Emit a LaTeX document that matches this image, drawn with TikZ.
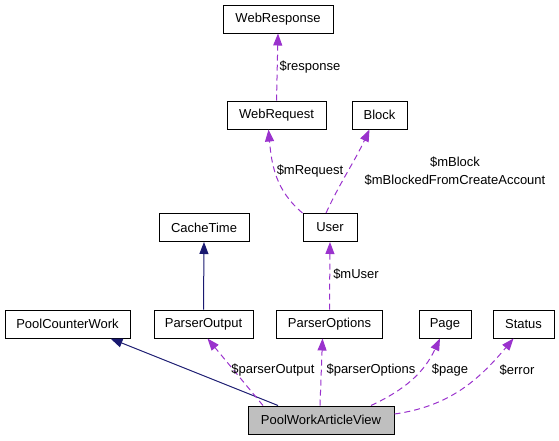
\documentclass[tikz,border=0pt]{standalone}
\usepackage{fontspec}
\setmainfont{Liberation Sans}
\usetikzlibrary{
	arrows.meta,
	positioning
}
\definecolor{usecol}{HTML}{9A32CD}
\definecolor{inhcol}{HTML}{191970}
\definecolor{mainfill}{HTML}{BFBFBF}

\begin{document}
\begin{tikzpicture}[
		x=1pt, y=1pt,
		font=\fontsize{13}{15}\selectfont,
		cls/.style={draw, rectangle, line width=1pt, inner xsep=2pt, minimum height=28pt, align=center},
		focus/.style={cls, fill=mainfill},
		use/.style={-{Triangle[length=12pt,width=9pt]}, dashed, dash pattern=on 6pt off 4pt, line width=1pt, color=usecol},
		inh/.style={-{Triangle[length=12pt,width=9pt]}, line width=1pt, color=inhcol},
		lbl/.style={inner sep=1pt}
		]
		
		\useasboundingbox (0,0) rectangle (559,-440);
		
		% --- Top rows ---
		\node[cls, minimum width=110pt] (webresponse) at (278,-19) {WebResponse};
		\node[cls, minimum width=99pt] (webrequest) at (276.5,-115) {WebRequest};
		\node[cls, minimum width=55pt] (block) at (379.5,-115) {Block};
		\node[cls, minimum width=90pt] (cachetime) at (204,-227.5) {CacheTime};
		\node[cls, minimum width=54pt] (user) at (330,-227.5) {User};
		
		% --- Middle row ---
		\node[cls, minimum width=125pt] (poolcounterwork) at (67.5,-324) {PoolCounterWork};
		\node[cls, minimum width=99pt] (parseroutput) at (203.5,-324) {ParserOutput};
		\node[cls, minimum width=106pt] (parseroptions) at (329.5,-324) {ParserOptions};
		\node[cls, minimum width=52pt] (page) at (445,-324) {Page};
		\node[cls, minimum width=61pt] (status) at (523.5,-324) {Status};
		
		% --- Bottom ---
		\node[focus, minimum width=146pt] (view) at (321,-420) {PoolWorkArticleView};
		
		% --- Arrows ---
		\draw[use] (webrequest.north) -- (webresponse.south);
		\draw[use] (user.north west) to[out=140,in=-85] ([xshift=-8pt]webrequest.south);
		\draw[use] ([xshift=-4pt]user.north) to[out=65,in=-115] ([xshift=-10pt]block.south);
		\draw[use] (parseroptions.north) -- (user.south);
		\draw[inh] (parseroutput.north) -- (cachetime.south);
		
		\draw[inh] ([xshift=-43pt]view.north) -- ([xshift=43pt]poolcounterwork.south);
		\draw[use] ([xshift=-58pt]view.north) -- ([xshift=4pt]parseroutput.south);
		\draw[use] ([xshift=-1pt]view.north) -- ([xshift=-7pt]parseroptions.south);
		\draw[use] ([xshift=50pt]view.north) to[out=25,in=-115] ([xshift=-5pt]page.south);
		\draw[use] ([yshift=6pt]view.east) to[out=8,in=-130] ([xshift=-10pt]status.south);
		
		% --- Labels ---
		\node[lbl] (lresponse) at (310,-67) {\$response};
		\node[lbl] (lrequest) at (310,-171) {\$mRequest};
		\node[lbl, align=center] (lblock) at (455,-171) {\$mBlock\\[3pt]\$mBlockedFromCreateAccount};
		\node[lbl] (luser) at (356,-274) {\$mUser};
		\node[lbl] (loutput) at (273,-370) {\$parserOutput};
		\node[lbl] (loptions) at (371,-370) {\$parserOptions};
		\node[lbl] (lpage) at (450,-370) {\$page};
		\node[lbl] (lerror) at (517,-370) {\$error};
		
	\end{tikzpicture}
\end{document}
